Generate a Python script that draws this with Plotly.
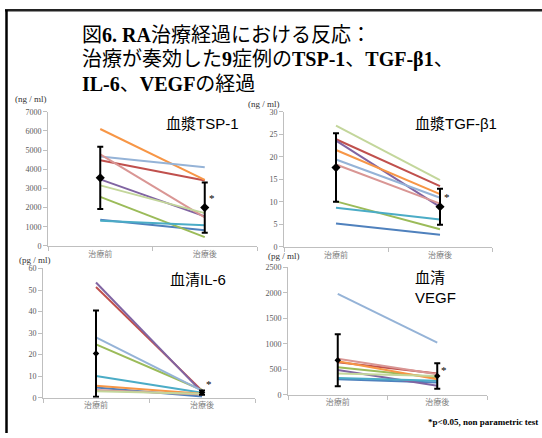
import plotly.graph_objects as go

W, H = 542, 438

phases = ["治療前", "治療後"]
case_names = ["blue", "red", "green", "purple", "teal", "orange", "lightblue", "pink", "lightgreen"]
case_colors = ["#4F81BD", "#C0504D", "#9BBB59", "#8064A2", "#4BACC6", "#F79646", "#95B3D7", "#D99694", "#C3D69B"]

# values per case: [pre, post]
tsp1_pre = [1370, 4470, 2560, 3470, 1310, 6100, 4660, 4780, 3160]
tsp1_post = [820, 3410, 460, 1540, 1080, 3450, 4100, 1490, 1710]
tsp1_mean = [3550, 2000]
tsp1_sd = [1620, 1310]

tgf_pre = [5.2, 23.9, 10.1, 23.6, 8.7, 21.5, 19.4, 18.3, 26.9]
tgf_post = [2.7, 13.5, 3.9, 8.9, 6.1, 11.7, 10.9, 9.6, 14.8]
tgf_mean = [17.6, 8.9]
tgf_sd = [7.6, 4.0]

il6_pre = [4.8, 51.4, 24.8, 53.5, 10.1, 5.6, 28.0, 3.6, 3.0]
il6_post = [0.6, 3.3, 3.6, 2.6, 2.3, 1.8, 3.3, 1.5, 1.8]
il6_mean = [20.5, 2.4]
il6_sd = [20.0, 1.0]

vegf_pre = [307, 640, 543, 486, 332, 659, 1982, 710, 416]
vegf_post = [243, 416, 339, 179, 275, 307, 1023, 403, 371]
vegf_mean = [678, 371]
vegf_sd = [510, 250]

star_y = [2500, 11.1, 6.4, 480]
y_max = [7000, 30, 60, 2500]
y_dtick = [1000, 5, 10, 500]


def px(x):
    return x / W


def py(y):
    return 1 - y / H


# panel boxes in pixels: (x0, x1, ytop, ybottom)
boxes = [(48, 257, 110, 247), (284, 492, 110, 248), (43, 255, 270, 402), (288, 487, 269, 399)]
panels = [
    (tsp1_pre, tsp1_post, tsp1_mean, tsp1_sd, 7),
    (tgf_pre, tgf_post, tgf_mean, tgf_sd, 7),
    (il6_pre, il6_post, il6_mean, il6_sd, 5),
    (vegf_pre, vegf_post, vegf_mean, vegf_sd, 5),
]

fig = go.Figure()
layout = dict(
    width=W, height=H, autosize=False,
    margin=dict(l=0, r=0, t=0, b=0),
    paper_bgcolor="white", plot_bgcolor="white",
    showlegend=False,
)

serif = "Liberation Serif, Noto Sans CJK JP"
sans = "Liberation Sans, Noto Sans CJK JP"

for i, (pre, post, mean, sd, msize) in enumerate(panels):
    n = i + 1
    xa = "x" if n == 1 else f"x{n}"
    ya = "y" if n == 1 else f"y{n}"
    for j in range(len(pre)):
        fig.add_trace(go.Scatter(
            x=phases, y=[pre[j], post[j]], mode="lines",
            line=dict(color=case_colors[j], width=2),
            xaxis=xa, yaxis=ya, hoverinfo="skip",
        ))
    fig.add_trace(go.Scatter(
        x=phases, y=mean, mode="markers",
        marker=dict(symbol="diamond", size=msize, color="black"),
        error_y=dict(type="data", array=sd, visible=True, color="black", thickness=2, width=3),
        xaxis=xa, yaxis=ya,
    ))
    x0, x1, yt, yb = boxes[i]
    xkey = "xaxis" if n == 1 else f"xaxis{n}"
    ykey = "yaxis" if n == 1 else f"yaxis{n}"
    layout[xkey] = dict(
        domain=[px(x0), px(x1)], anchor=ya, type="category",
        categoryorder="array", categoryarray=phases, range=[-0.5, 1.5],
        showline=True, linecolor="#BFBFBF", linewidth=1,
        ticks="outside", tickson="boundaries", ticklen=4, tickcolor="#BFBFBF",
        tickfont=dict(size=8, color="#7F7F7F", family=sans),
        showgrid=False, zeroline=False,
    )
    layout[ykey] = dict(
        domain=[py(yb), py(yt)], anchor=xa, range=[0, y_max[i]], dtick=y_dtick[i],
        showline=True, linecolor="#BFBFBF", linewidth=1,
        ticks="outside", ticklen=4, tickcolor="#BFBFBF",
        tickfont=dict(size=8, color="#595959", family=serif),
        showgrid=False, zeroline=False,
    )

fig.update_layout(**layout)

ann = []
# main title
title_lines = [
    "図<b>6. RA</b>治療経過における反応：",
    "治療が奏効した<b>9</b>症例の<b>TSP-1</b>、<b>TGF-β1</b>、",
    "<b>IL-6</b>、<b>VEGF</b>の経過",
]
for k, (t, yy) in enumerate(zip(title_lines, [32, 57, 82])):
    ann.append(dict(text=t, x=px(80), y=py(yy), xref="paper", yref="paper",
                    xanchor="left", yanchor="middle", showarrow=False,
                    font=dict(size=20, color="black", family=serif)))

# unit labels
for t, xx, yy in [("(ng / ml)", 13, 97), ("(ng / ml)", 246, 102), ("(pg / ml)", 17, 261), ("(pg / ml)", 266, 257)]:
    ann.append(dict(text=t, x=px(xx), y=py(yy), xref="paper", yref="paper",
                    xanchor="left", yanchor="middle", showarrow=False,
                    font=dict(size=9, color="#333333", family=serif)))

# panel titles
for t, xx, yy in [("血漿TSP-1", 164, 122), ("血漿TGF-β1", 413, 122), ("血清IL-6", 168, 281)]:
    ann.append(dict(text=t, x=px(xx), y=py(yy), xref="paper", yref="paper",
                    xanchor="left", yanchor="middle", showarrow=False,
                    font=dict(size=15, color="black", family=sans)))
ann.append(dict(text="血清<br>VEGF", x=px(413), y=py(289), xref="paper", yref="paper",
                xanchor="left", yanchor="middle", align="left", showarrow=False,
                font=dict(size=15, color="black", family=sans)))

# significance stars
for i, sy in enumerate(star_y):
    n = i + 1
    ann.append(dict(text="*", x=phases[1], y=sy, xref="x" if n == 1 else f"x{n}",
                    yref="y" if n == 1 else f"y{n}", xshift=7, xanchor="center", yanchor="middle",
                    showarrow=False, font=dict(size=11, color="black", family=serif)))

ann.append(dict(text="<b>*p&lt;0.05, non parametric test</b>", x=px(540), y=py(427),
                xref="paper", yref="paper", xanchor="right", yanchor="middle", showarrow=False,
                font=dict(size=9, color="black", family=serif)))

fig.update_layout(annotations=ann)

# frame lines
fig.add_shape(type="line", xref="paper", yref="paper", x0=px(5), x1=1, y0=py(6.5), y1=py(6.5),
              line=dict(color="#222222", width=2.5))
fig.add_shape(type="line", xref="paper", yref="paper", x0=px(6.5), x1=px(6.5), y0=py(6), y1=0,
              line=dict(color="black", width=2.5))

fig.write_html("out.html", config={"displayModeBar": False},
               post_script="document.body.style.margin='0';document.body.style.overflow='hidden';")
